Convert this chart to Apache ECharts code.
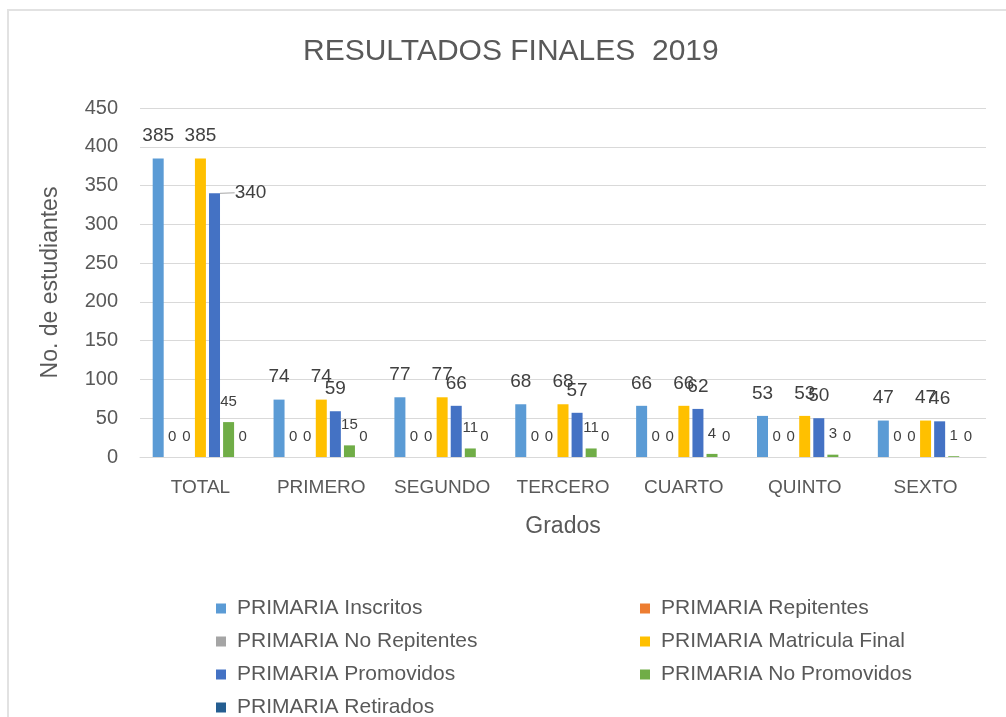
<!DOCTYPE html>
<html>
<head>
<meta charset="utf-8">
<script src="https://cdn.jsdelivr.net/npm/echarts@6/dist/echarts.min.js"></script>
<style>
  html, body { margin: 0; padding: 0; background: #fff; overflow: hidden; }
  #frame { position: absolute; left: 7px; top: 9px; width: 1100px; height: 800px; border: 2px solid #e2e2e2; }
  #chart { position: absolute; left: 0; top: 0; width: 1006px; height: 717px; }
</style>
</head>
<body>
<div id="frame"></div>
<div id="chart"></div>
<script>
// datos de la tabla
const grados = ['TOTAL', 'PRIMERO', 'SEGUNDO', 'TERCERO', 'CUARTO', 'QUINTO', 'SEXTO'];
const inscritos = [385, 74, 77, 68, 66, 53, 47];
const repitentes = [0, 0, 0, 0, 0, 0, 0];
const noRepitentes = [0, 0, 0, 0, 0, 0, 0];
const matriculaFinal = [385, 74, 77, 68, 66, 53, 47];
const promovidos = [340, 59, 66, 57, 62, 50, 46];
const noPromovidos = [45, 15, 11, 11, 4, 3, 1];
const retirados = [0, 0, 0, 0, 0, 0, 0];

const font = '"Liberation Sans", Arial, sans-serif';
const gris = '#595959';

function serie(name, data, color, size) {
  return {
    name: name,
    type: 'bar',
    data: data,
    itemStyle: {color: color},
    label: {
      show: true,
      position: 'top',
      distance: 13,
      fontFamily: font,
      fontSize: size,
      color: '#404040'
    }
  };
}

// la etiqueta del primer valor de promovidos va desplazada con linea guia
let promovidosData = promovidos.map((v, i) => i === 0
  ? {value: v, labelLine: {show: true, lineStyle: {color: '#a6a6a6', width: 1}}}
  : v);

let chart = echarts.init(document.getElementById('chart'));
let series = [
  serie('PRIMARIA Inscritos', inscritos, '#5B9BD5', 19),
  serie('PRIMARIA Repitentes', repitentes, '#ED7D31', 15),
  serie('PRIMARIA No Repitentes', noRepitentes, '#A5A5A5', 15),
  serie('PRIMARIA Matricula Final', matriculaFinal, '#FFC000', 19),
  serie('PRIMARIA Promovidos', promovidosData, '#4472C4', 19),
  serie('PRIMARIA No Promovidos', noPromovidos, '#70AD47', 15),
  serie('PRIMARIA Retirados', retirados, '#255E91', 15)
];
series[0].barGap = '28%';
series[0].barCategoryGap = '21%';
series[4].labelLayout = (params) => params.dataIndex === 0 ? {dx: 36, dy: 22} : {};
series[4].labelLine = {show: false};

const legendText = {fontFamily: font, fontSize: 21, color: gris, padding: [0, 0, 0, 6]};

chart.setOption({
  animation: false,
  textStyle: {fontFamily: font},
  title: {
    text: 'RESULTADOS FINALES  2019',
    left: 298,
    top: 32,
    textStyle: {fontFamily: font, fontSize: 30, fontWeight: 'normal', color: gris}
  },
  grid: {left: 140, right: 20, top: 108, bottom: 260},
  legend: [
    {
      orient: 'vertical',
      left: 216,
      top: 598,
      height: 140,
      padding: 0,
      itemWidth: 10,
      itemHeight: 10,
      itemGap: 12,
      icon: 'rect',
      textStyle: legendText,
      data: ['PRIMARIA Inscritos', 'PRIMARIA No Repitentes', 'PRIMARIA Promovidos', 'PRIMARIA Retirados']
    },
    {
      orient: 'vertical',
      left: 640,
      top: 598,
      height: 140,
      padding: 0,
      itemWidth: 10,
      itemHeight: 10,
      itemGap: 12,
      icon: 'rect',
      textStyle: legendText,
      data: ['PRIMARIA Repitentes', 'PRIMARIA Matricula Final', 'PRIMARIA No Promovidos']
    }
  ],
  xAxis: {
    type: 'category',
    data: grados,
    name: 'Grados',
    nameLocation: 'middle',
    nameGap: 58,
    nameTextStyle: {fontFamily: font, fontSize: 23, color: gris},
    axisLine: {lineStyle: {color: '#d9d9d9', width: 1}},
    axisTick: {show: false},
    axisLabel: {interval: 0, fontFamily: font, fontSize: 19, color: gris, margin: 21}
  },
  yAxis: {
    type: 'value',
    min: 0,
    max: 450,
    interval: 50,
    name: 'No. de estudiantes',
    nameLocation: 'middle',
    nameGap: 78,
    nameTextStyle: {fontFamily: font, fontSize: 23, color: gris},
    axisLine: {show: false},
    axisTick: {show: false},
    splitLine: {lineStyle: {color: '#d9d9d9', width: 1}},
    axisLabel: {fontFamily: font, fontSize: 20, color: gris, margin: 22}
  },
  series: series
});
</script>
</body>
</html>
